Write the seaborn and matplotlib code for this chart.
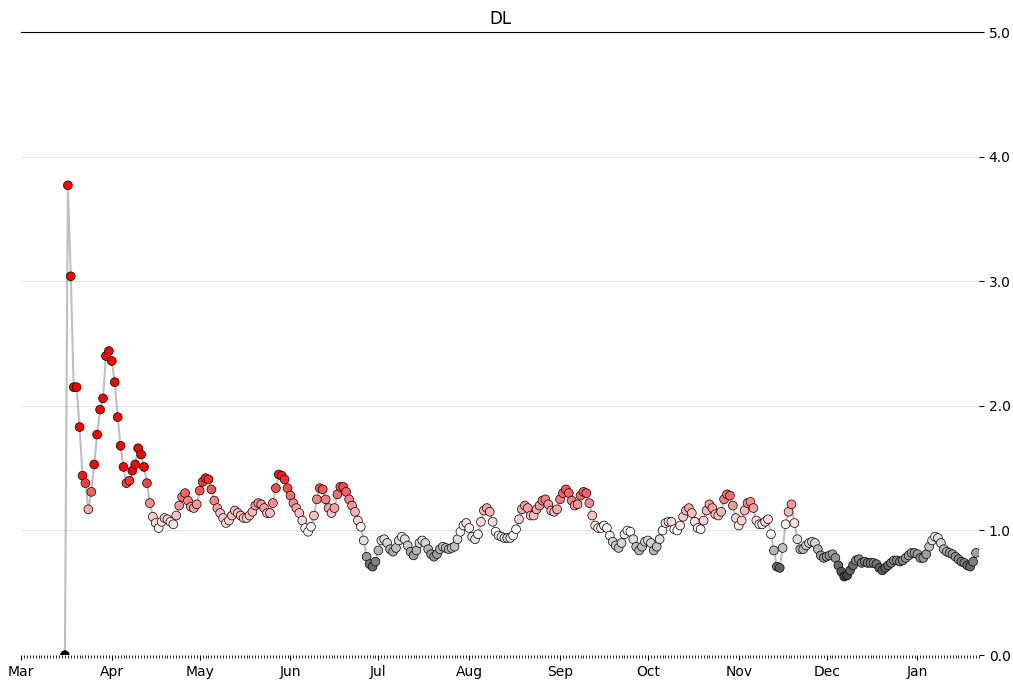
import numpy as np
import pandas as pd
import seaborn as sns
import matplotlib.pyplot as plt
import matplotlib.dates as mdates
import matplotlib.ticker as ticker
from matplotlib.colors import ListedColormap

state_name = "DL"
start_date = "2020-03-16"

# daily Rt estimate
rt_mar = [0.00, 3.77, 3.04, 2.15, 2.15, 1.83, 1.44, 1.38, 1.17, 1.31, 1.53, 1.77, 1.97, 2.06, 2.40, 2.44]
rt_apr = [2.36, 2.19, 1.91, 1.68, 1.51, 1.38, 1.40, 1.48, 1.53, 1.66, 1.61, 1.51, 1.38, 1.22, 1.11,
          1.06, 1.02, 1.07, 1.10, 1.09, 1.07, 1.05, 1.12, 1.20, 1.27, 1.30, 1.24, 1.19, 1.18, 1.21]
rt_may = [1.32, 1.39, 1.42, 1.41, 1.33, 1.24, 1.18, 1.14, 1.10, 1.06, 1.08, 1.12, 1.16, 1.14, 1.12,
          1.10, 1.10, 1.12, 1.15, 1.20, 1.22, 1.21, 1.18, 1.14, 1.14, 1.22, 1.34, 1.45, 1.44, 1.41, 1.34]
rt_jun = [1.28, 1.22, 1.18, 1.14, 1.08, 1.02, 0.99, 1.03, 1.12, 1.25, 1.34, 1.33, 1.25, 1.18, 1.14,
          1.18, 1.29, 1.35, 1.35, 1.31, 1.25, 1.20, 1.15, 1.08, 1.03, 0.92, 0.79, 0.73, 0.71, 0.75]
rt_jul = [0.84, 0.92, 0.93, 0.90, 0.85, 0.83, 0.86, 0.92, 0.95, 0.93, 0.88, 0.83, 0.80, 0.84, 0.90,
          0.92, 0.90, 0.85, 0.81, 0.79, 0.81, 0.85, 0.87, 0.86, 0.85, 0.86, 0.87, 0.93, 0.99, 1.04, 1.06]
rt_aug = [1.02, 0.95, 0.93, 0.97, 1.07, 1.16, 1.18, 1.15, 1.07, 0.99, 0.96, 0.95, 0.94, 0.94, 0.94,
          0.96, 1.01, 1.09, 1.17, 1.20, 1.18, 1.12, 1.12, 1.17, 1.20, 1.24, 1.25, 1.21, 1.16, 1.15, 1.17]
rt_sep = [1.25, 1.30, 1.33, 1.30, 1.24, 1.20, 1.21, 1.28, 1.31, 1.30, 1.22, 1.12, 1.04, 1.02, 1.02,
          1.04, 1.02, 0.96, 0.91, 0.88, 0.86, 0.90, 0.97, 1.00, 0.99, 0.93, 0.87, 0.84, 0.87, 0.91]
rt_oct = [0.92, 0.90, 0.84, 0.87, 0.93, 1.00, 1.06, 1.07, 1.07, 1.01, 1.00, 1.04, 1.11, 1.16, 1.18,
          1.14, 1.07, 1.02, 1.01, 1.08, 1.16, 1.21, 1.18, 1.13, 1.12, 1.15, 1.25, 1.29, 1.28, 1.20, 1.10]
rt_nov = [1.04, 1.08, 1.16, 1.22, 1.23, 1.18, 1.08, 1.05, 1.05, 1.07, 1.09, 0.97, 0.84, 0.71, 0.70,
          0.86, 1.05, 1.15, 1.21, 1.06, 0.93, 0.85, 0.85, 0.88, 0.90, 0.91, 0.90, 0.85, 0.80, 0.78]
rt_dec = [0.79, 0.80, 0.81, 0.78, 0.72, 0.67, 0.63, 0.64, 0.68, 0.72, 0.76, 0.77, 0.74, 0.75, 0.74,
          0.74, 0.74, 0.73, 0.70, 0.68, 0.70, 0.72, 0.74, 0.76, 0.76, 0.75, 0.76, 0.78, 0.80, 0.82, 0.82]
rt_jan = [0.81, 0.78, 0.78, 0.81, 0.87, 0.92, 0.95, 0.94, 0.90, 0.85, 0.83, 0.82, 0.81, 0.79, 0.77,
          0.75, 0.74, 0.72, 0.71, 0.75, 0.82]

values = np.array(rt_mar + rt_apr + rt_may + rt_jun + rt_jul + rt_aug + rt_sep + rt_oct
                  + rt_nov + rt_dec + rt_jan)
dates = pd.date_range(start_date, periods=len(values), freq="D")
df = pd.DataFrame({"date": dates, "ML": values})

# black -> white -> red, centred on Rt = 1
ABOVE = [1, 0, 0]
MIDDLE = [1, 1, 1]
BELOW = [0, 0, 0]
cmap = ListedColormap(np.r_[np.linspace(BELOW, MIDDLE, 25), np.linspace(MIDDLE, ABOVE, 25)])

fig, ax = plt.subplots(figsize=(10.13, 6.81), dpi=100)
fig.subplots_adjust(left=0.0207, right=0.9664, top=0.953, bottom=0.038)

sns.lineplot(data=df, x="date", y="ML", color="k", alpha=.25, lw=1.5, zorder=1, ax=ax)
sns.scatterplot(data=df, x="date", y="ML", hue="ML", palette=cmap, hue_norm=(0.5, 1.5),
                legend=False, s=40, linewidth=.5, edgecolor="k", zorder=2, ax=ax)

ax.set_title(state_name)
ax.set_xlabel("")
ax.set_ylabel("")

ax.xaxis.set_major_locator(mdates.MonthLocator())
ax.xaxis.set_major_formatter(mdates.DateFormatter("%b"))
ax.xaxis.set_minor_locator(mdates.DayLocator())
ax.yaxis.set_major_locator(ticker.MultipleLocator(1))
ax.yaxis.set_major_formatter(ticker.StrMethodFormatter("{x:.1f}"))
ax.yaxis.tick_right()
ax.spines["left"].set_visible(False)
ax.spines["bottom"].set_visible(False)
ax.spines["right"].set_visible(False)
ax.grid(which="major", axis="y", c="k", alpha=.1, zorder=-2)
ax.margins(0)
ax.set_ylim(0.0, 5.0)
ax.set_xlim(pd.Timestamp("2020-03-01"), dates[-1] + pd.Timedelta(days=1))
fig.set_facecolor("w")

fig.savefig("out.png", dpi=100, facecolor="white")
